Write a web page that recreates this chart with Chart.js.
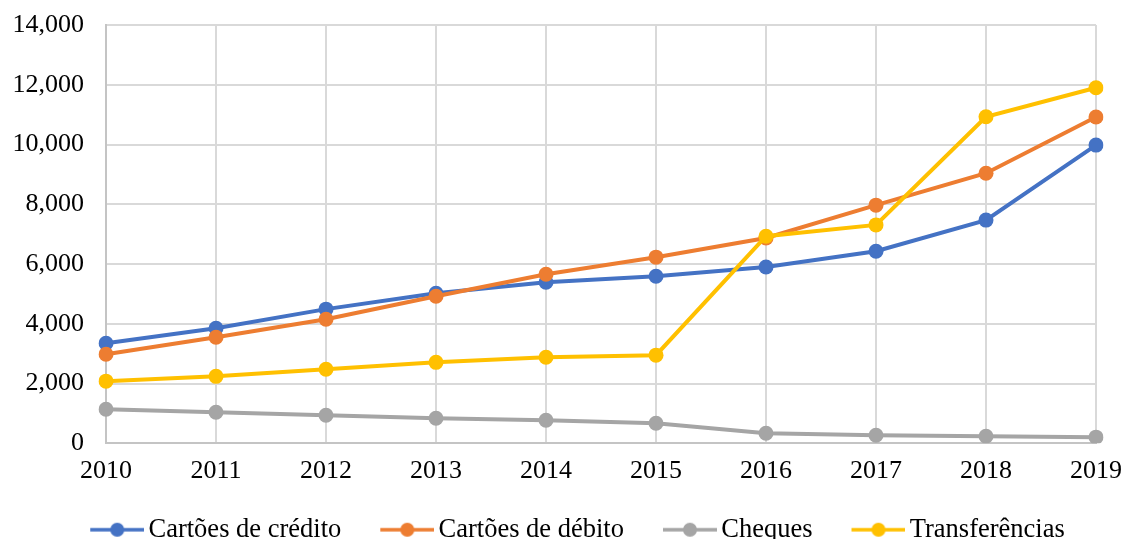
<!DOCTYPE html>
<html>
<head>
<meta charset="utf-8">
<script src="https://cdn.jsdelivr.net/npm/chart.js@4"></script>
<style>
  html, body { margin: 0; padding: 0; background: #fff; overflow: hidden; }
  #wrap { width: 1126px; height: 553px; }
</style>
</head>
<body>
<div id="wrap"><canvas id="chart" width="1126" height="553"></canvas></div>
<script>
/* ================================================================ */
/* Meios de pagamento 2010-2019                                     */
/* ================================================================ */

const years = ['2010', '2011', '2012', '2013', '2014', '2015', '2016', '2017', '2018', '2019'];

const cartoesCredito = [3350, 3850, 4490, 5020, 5390, 5590, 5900, 6430, 7470, 9980];
const cartoesDebito = [2980, 3550, 4150, 4920, 5660, 6230, 6870, 7970, 9040, 10920];
const cheques = [1140, 1040, 940, 840, 770, 670, 335, 270, 235, 205];
const transferencias = [2080, 2240, 2480, 2710, 2880, 2950, 6930, 7310, 10930, 11900];

const yTicks = [0, 2000, 4000, 6000, 8000, 10000, 12000, 14000];

const FONT = "'Liberation Serif', 'Times New Roman', serif";

// legend marker: a short line with a dot, drawn in the right part of a wider image
function lineMarker(color) {
    const c = document.createElement('canvas');
    c.width = 92;
    c.height = 18;
    const g = c.getContext('2d');
    g.strokeStyle = color;
    g.lineWidth = 3.5;
    g.beginPath();
    g.moveTo(38, 9);
    g.lineTo(92, 9);
    g.stroke();
    g.fillStyle = color;
    g.beginPath();
    g.arc(65, 9, 7, 0, Math.PI * 2);
    g.fill();
    return c;
}

function series(label, values, color, order) {
    return {
        label: label,
        data: values,
        borderColor: color,
        backgroundColor: color,
        borderWidth: 4,
        pointRadius: 7.5,
        pointHoverRadius: 7.5,
        pointBorderWidth: 0,
        tension: 0,
        fill: false,
        order: order,
        marker: lineMarker(color)
    };
}

new Chart(document.getElementById('chart'), {
    type: 'line',
    data: {
        labels: years,
        datasets: [
            series('Cartões de crédito', cartoesCredito, '#4472C4', 4),
            series('Cartões de débito', cartoesDebito, '#ED7D31', 3),
            series('Cheques', cheques, '#A5A5A5', 2),
            series('Transferências', transferencias, '#FFC000', 1)
        ]
    },
    options: {
        responsive: false,
        animation: false,
        layout: { padding: 0 },
        plugins: {
            tooltip: { enabled: false },
            legend: {
                position: 'bottom',
                labels: {
                    color: '#000',
                    font: { family: FONT, size: 26.5 },
                    usePointStyle: true,
                    pointStyleWidth: 74,
                    padding: 10,
                    generateLabels: chart => chart.data.datasets.map((ds, i) => ({
                        text: ds.label,
                        pointStyle: ds.marker,
                        fillStyle: ds.borderColor,
                        strokeStyle: ds.borderColor,
                        lineWidth: 0,
                        hidden: false,
                        datasetIndex: i
                    }))
                }
            }
        },
        scales: {
            x: {
                offset: false,
                afterFit: scale => {
                    scale.paddingLeft = 0;
                    scale.paddingRight = 30;
                    scale.height += 8;
                },
                grid: { color: '#d9d9d9', lineWidth: 2, drawTicks: false },
                border: { color: '#c4c4c4', width: 2 },
                ticks: {
                    color: '#000',
                    font: { family: FONT, size: 26 },
                    padding: 12,
                    maxRotation: 0
                }
            },
            y: {
                min: 0,
                max: 14000,
                afterFit: scale => {
                    scale.width = 106;
                    scale.paddingTop = 25;
                },
                afterBuildTicks: scale => { scale.ticks = yTicks.map(v => ({ value: v })); },
                grid: { color: '#d9d9d9', lineWidth: 2, drawTicks: false },
                border: { color: '#c4c4c4', width: 2 },
                ticks: {
                    color: '#000',
                    font: { family: FONT, size: 26 },
                    padding: 22,
                    callback: v => v.toLocaleString('en-US')
                }
            }
        }
    }
});
</script>
</body>
</html>
